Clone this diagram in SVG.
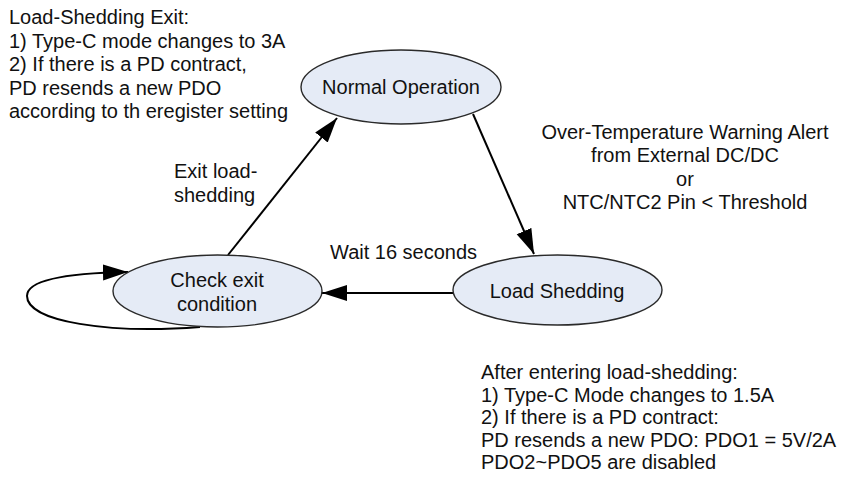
<svg xmlns="http://www.w3.org/2000/svg" width="852" height="483" viewBox="0 0 852 483">
  <defs>
    <style>
      text { font-family: "Liberation Sans", Arial, sans-serif; font-size: 20px; fill: #111; }
      .mid { text-anchor: middle; }
      .state { fill: #e5ebf6; stroke: #2a2a2a; stroke-width: 1.4; }
      .edge { fill: none; stroke: #000; stroke-width: 2; marker-end: url(#arrow); }
    </style>
    <marker id="arrow" markerUnits="userSpaceOnUse" markerWidth="26" markerHeight="18" viewBox="0 0 26 18" refX="25" refY="9" orient="auto">
      <path d="M0,1 L25,9 L0,17 Z" fill="#000"/>
    </marker>
  </defs>

  <rect width="852" height="483" fill="#fff"/>

  <!-- transitions -->
  <g id="connectors">
    <line class="edge" x1="473" y1="114" x2="534" y2="254"/>
    <line class="edge" x1="453" y1="293" x2="322" y2="293"/>
    <line class="edge" x1="228" y1="255" x2="337" y2="118"/>
    <path class="edge" d="M200,327 C110,334 27,322 27,296 C27,279 70,273 128,272"/>
  </g>

  <!-- states -->
  <g id="normal-operation">
    <ellipse class="state" cx="401" cy="87" rx="100" ry="37"/>
    <text class="mid" x="401" y="94">Normal Operation</text>
  </g>
  <g id="load-shedding">
    <ellipse class="state" cx="557.5" cy="290" rx="104.5" ry="35"/>
    <text class="mid" x="557" y="297.5">Load Shedding</text>
  </g>
  <g id="check-exit">
    <ellipse class="state" cx="217.5" cy="291" rx="104.5" ry="36"/>
    <text class="mid" x="217" y="287">Check exit</text>
    <text class="mid" x="217" y="311">condition</text>
  </g>

  <!-- transition labels -->
  <g id="label-exit">
    <text x="174" y="178">Exit load-</text>
    <text x="174" y="202">shedding</text>
  </g>
  <g id="label-wait">
    <text x="330" y="259">Wait 16 seconds</text>
  </g>
  <g id="label-over-temp">
    <text class="mid" x="685" y="139">Over-Temperature Warning Alert</text>
    <text class="mid" x="685" y="162">from External DC/DC</text>
    <text class="mid" x="685" y="186">or</text>
    <text class="mid" x="685" y="209">NTC/NTC2 Pin &lt; Threshold</text>
  </g>

  <!-- notes -->
  <g id="note-exit">
    <text x="9" y="24">Load-Shedding Exit:</text>
    <text x="9" y="47.5">1) Type-C mode changes to 3A</text>
    <text x="9" y="71">2) If there is a PD contract,</text>
    <text x="9" y="94.5">PD resends a new PDO</text>
    <text x="9" y="118">according to th eregister setting</text>
  </g>
  <g id="note-enter">
    <text x="481" y="379">After entering load-shedding:</text>
    <text x="481" y="401.5">1) Type-C Mode changes to 1.5A</text>
    <text x="481" y="424">2) If there is a PD contract:</text>
    <text x="481" y="446.5">PD resends a new PDO: PDO1 = 5V/2A</text>
    <text x="481" y="469">PDO2~PDO5 are disabled</text>
  </g>
</svg>
